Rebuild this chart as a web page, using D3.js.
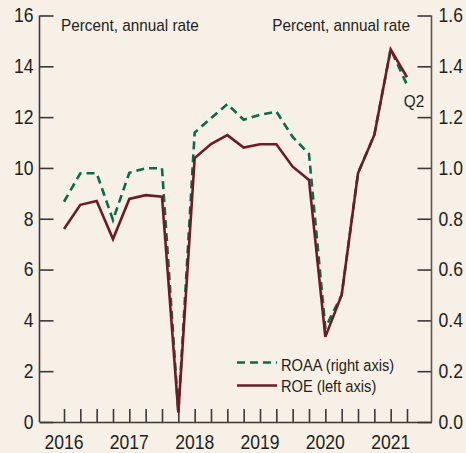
<!DOCTYPE html>
<html>
<head>
<meta charset="utf-8">
<script src="https://cdn.jsdelivr.net/npm/d3@7"></script>
<style>
  html, body { margin: 0; padding: 0; background: #f6f0e6; }
  svg { display: block; }
  text { font-family: "Liberation Sans", Arial, sans-serif; fill: #231f20; }
</style>
</head>
<body>
<svg id="chart"></svg>
<script>
// Constants
const svgWidth = 466;
const svgHeight = 453;
const condense = 0.9; // squeeze text horizontally to look like a condensed face

// Data: quarterly, 2016Q1 .. 2021Q2
const quarters = [
  "2016Q1", "2016Q2", "2016Q3", "2016Q4",
  "2017Q1", "2017Q2", "2017Q3", "2017Q4",
  "2018Q1", "2018Q2", "2018Q3", "2018Q4",
  "2019Q1", "2019Q2", "2019Q3", "2019Q4",
  "2020Q1", "2020Q2", "2020Q3", "2020Q4",
  "2021Q1", "2021Q2"
];
// ROE, left axis (percent)
const roe = [7.6, 8.55, 8.7, 7.2, 8.78, 8.93, 8.87, 0.37, 10.39, 10.94, 11.29, 10.8,
  10.93, 10.93, 10.05, 9.53, 3.35, 5.0, 9.79, 11.3, 14.67, 13.57];
// ROAA, right axis (percent)
const roaa = [0.867, 0.979, 0.979, 0.795, 0.981, 0.999, 0.999, 0.04, 1.139, 1.196, 1.251, 1.19,
  1.209, 1.222, 1.122, 1.055, 0.37, 0.5, 0.98, 1.13, 1.467, 1.327];

const leftTicks = [0, 2, 4, 6, 8, 10, 12, 14, 16];
const rightTicks = [0, 0.2, 0.4, 0.6, 0.8, 1.0, 1.2, 1.4, 1.6];
const yearLabels = ["2016", "2017", "2018", "2019", "2020", "2021"];

const roeColor = "#6e1b27";
const roaaColor = "#0b6a47";
const axisColor = "#3b3838";

const svg = d3.select("#chart")
  .attr("width", svgWidth)
  .attr("height", svgHeight);

svg.append("rect")
  .attr("width", svgWidth)
  .attr("height", svgHeight)
  .attr("fill", "#f6f0e6");

// Scales
const xScale = d3.scaleLinear()
  .domain([-1.5, quarters.length + 0.5])
  .range([39.5, 431.5]);

const yLeft = d3.scaleLinear()
  .domain([0, 16])
  .range([422, 15.5]);

const yRight = d3.scaleLinear()
  .domain([0, 1.6])
  .range([422, 15.5]);

// Left axis
const leftAxis = svg.append("g")
  .attr("transform", `translate(${xScale.range()[0]},0)`)
  .call(d3.axisRight(yLeft)
    .tickValues(leftTicks)
    .tickSize(14)
    .tickSizeOuter(0)
    .tickFormat(d3.format("d")));
leftAxis.selectAll("text")
  .attr("x", -6)
  .attr("text-anchor", "end")
  .attr("font-size", "19.5px");

// Right axis
const rightAxis = svg.append("g")
  .attr("transform", `translate(${xScale.range()[1]},0)`)
  .call(d3.axisLeft(yRight)
    .tickValues(rightTicks)
    .tickSize(14)
    .tickSizeOuter(0)
    .tickFormat(d3.format(".1f")));
rightAxis.selectAll("text")
  .attr("x", 7)
  .attr("text-anchor", "start")
  .attr("font-size", "19.5px");

// Bottom axis (quarter ticks pointing up)
svg.append("g")
  .attr("transform", `translate(0,${yLeft(0)})`)
  .call(d3.axisTop(xScale)
    .tickValues(d3.range(quarters.length))
    .tickSize(13)
    .tickSizeOuter(0)
    .tickFormat(""));

// Year labels under Q1 ticks
svg.append("g")
  .selectAll("text")
  .data(yearLabels)
  .join("text")
  .attr("x", d => xScale(quarters.indexOf(d + "Q1")))
  .attr("y", 449)
  .attr("text-anchor", "middle")
  .attr("font-size", "19.5px")
  .text(d => d);

// Style axes
svg.selectAll(".domain, .tick line")
  .attr("stroke", axisColor)
  .attr("stroke-width", 1.6);
svg.selectAll(".tick text")
  .attr("fill", "#231f20")
  .attr("font-family", null);
leftAxis.select(".domain").remove();
rightAxis.select(".domain").remove();
svg.append("line")
  .attr("x1", xScale.range()[0]).attr("x2", xScale.range()[0])
  .attr("y1", yLeft(16)).attr("y2", yLeft(0))
  .attr("stroke", axisColor).attr("stroke-width", 1.6);
svg.append("line")
  .attr("x1", xScale.range()[1]).attr("x2", xScale.range()[1])
  .attr("y1", yLeft(16)).attr("y2", yLeft(0))
  .attr("stroke", "#5a5656").attr("stroke-width", 1.6);

// Lines
const roaaLine = d3.line()
  .x((d, i) => xScale(i))
  .y(d => yRight(d));
const roeLine = d3.line()
  .x((d, i) => xScale(i))
  .y(d => yLeft(d));

svg.append("path")
  .datum(roaa)
  .attr("d", roaaLine)
  .attr("fill", "none")
  .attr("stroke", roaaColor)
  .attr("stroke-width", 2.6)
  .attr("stroke-dasharray", "8,5");

svg.append("path")
  .datum(roe)
  .attr("d", roeLine)
  .attr("fill", "none")
  .attr("stroke", roeColor)
  .attr("stroke-width", 2.6);

// Unit titles
svg.append("text")
  .attr("x", 61)
  .attr("y", 31)
  .attr("font-size", "17px")
  .text("Percent, annual rate");
svg.append("text")
  .attr("x", 410)
  .attr("y", 31)
  .attr("text-anchor", "end")
  .attr("font-size", "17px")
  .text("Percent, annual rate");

// Last observation label
svg.append("text")
  .attr("x", xScale(quarters.length - 1) + 7)
  .attr("y", 107)
  .attr("text-anchor", "middle")
  .attr("font-size", "17px")
  .text("Q2");

// Legend
const legend = svg.append("g").attr("transform", "translate(237,0)");
legend.append("line")
  .attr("x1", 0).attr("x2", 40)
  .attr("y1", 362.5).attr("y2", 362.5)
  .attr("stroke", roaaColor)
  .attr("stroke-width", 2.6)
  .attr("stroke-dasharray", "8,5");
legend.append("text")
  .attr("x", 44).attr("y", 370.5)
  .attr("font-size", "16.3px")
  .text("ROAA (right axis)");
legend.append("line")
  .attr("x1", 0).attr("x2", 40)
  .attr("y1", 385.5).attr("y2", 385.5)
  .attr("stroke", roeColor)
  .attr("stroke-width", 2.6);
legend.append("text")
  .attr("x", 44).attr("y", 391.5)
  .attr("font-size", "16.3px")
  .text("ROE (left axis)");

// Condense every label
svg.selectAll("text").each(function() {
  const w = this.getComputedTextLength();
  d3.select(this)
    .attr("textLength", w * condense)
    .attr("lengthAdjust", "spacingAndGlyphs");
});
</script>
</body>
</html>
